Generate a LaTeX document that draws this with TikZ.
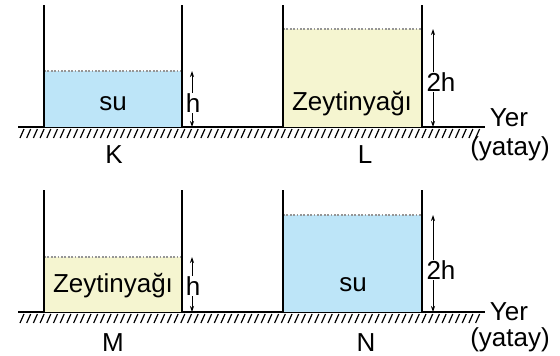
\documentclass[tikz,border=0pt]{standalone}
\usepackage{fontspec}
\setmainfont{Liberation Sans}
\usetikzlibrary{arrows.meta}
\definecolor{water}{RGB}{189,229,248}
\definecolor{oil}{RGB}{245,245,208}
\definecolor{dotgray}{RGB}{150,150,150}
\tikzset{
  wall/.style={line width=2pt},
  groundline/.style={line width=2pt},
  hatchline/.style={line width=1.2pt},
  surface/.style={dotgray,line width=1.8pt,dash pattern=on 1.8pt off 1.6pt},
  dimarrow/.style={line width=0.8pt,{Stealth[length=6pt,width=4pt]}-{Stealth[length=6pt,width=4pt]}},
  lbl/.style={inner sep=0.5pt,font=\fontsize{26}{30}\selectfont},
  dimlbl/.style={lbl,fill=white,inner sep=1pt},
}
\begin{document}
\begin{tikzpicture}[x=1pt,y=-1pt]
\useasboundingbox (0,0) rectangle (560,356);
% ---------- ground (two rows) ----------
\foreach \gy in {127,312}{
  \draw[groundline] (18,\gy) -- (485,\gy);
  \foreach \hx in {24,30.7,...,486}{
    \draw[hatchline] (\hx,\gy+2) -- (\hx-4,\gy+11);
  }
}
% ---------- K ----------
\fill[water] (44,71) rectangle (182,127);
\draw[surface] (44,71) -- (182,71);
\draw[wall] (44,5) -- (44,127);
\draw[wall] (182,5) -- (182,127);
\coordinate (Ka) at (192,71);
\coordinate (Kb) at (192,127);
\draw[dimarrow] (Ka) -- (Kb);
\node[dimlbl] (Kh) at (193,103) {h};
\node[lbl] (Ksu) at (113,104) {su};
\node[lbl] (K) at (114,155) {K};
% ---------- L ----------
\fill[oil] (283,29) rectangle (422,127);
\draw[surface] (283,29) -- (422,29);
\draw[wall] (283,5) -- (283,127);
\draw[wall] (422,5) -- (422,127);
\coordinate (La) at (433,29);
\coordinate (Lb) at (433,127);
\draw[dimarrow] (La) -- (Lb);
\node[dimlbl] (Lh) at (441,82) {2h};
\node[lbl] (Loil) at (352,104) {Zeytinyağı};
\node[lbl] (L) at (365,155) {L};
\node[lbl] (Yer1) at (509,118) {Yer};
\node[lbl] (yatay1) at (510,149) {(yatay)};
% ---------- M ----------
\fill[oil] (44,257) rectangle (182,312);
\draw[surface] (44,257) -- (182,257);
\draw[wall] (44,190) -- (44,312);
\draw[wall] (182,190) -- (182,312);
\coordinate (Ma) at (192,257);
\coordinate (Mb) at (192,312);
\draw[dimarrow] (Ma) -- (Mb);
\node[dimlbl] (Mh) at (193,286) {h};
\node[lbl] (Moil) at (113,286) {Zeytinyağı};
\node[lbl] (M) at (113,343) {M};
% ---------- N ----------
\fill[water] (283,215) rectangle (422,312);
\draw[surface] (283,215) -- (422,215);
\draw[wall] (283,190) -- (283,312);
\draw[wall] (422,190) -- (422,312);
\coordinate (Na) at (433,215);
\coordinate (Nb) at (433,312);
\draw[dimarrow] (Na) -- (Nb);
\node[dimlbl] (Nh) at (441,270) {2h};
\node[lbl] (Nsu) at (353,285) {su};
\node[lbl] (N) at (366,343) {N};
\node[lbl] (Yer2) at (509,312) {Yer};
\node[lbl] (yatay2) at (510,340) {(yatay)};
\end{tikzpicture}
\end{document}
